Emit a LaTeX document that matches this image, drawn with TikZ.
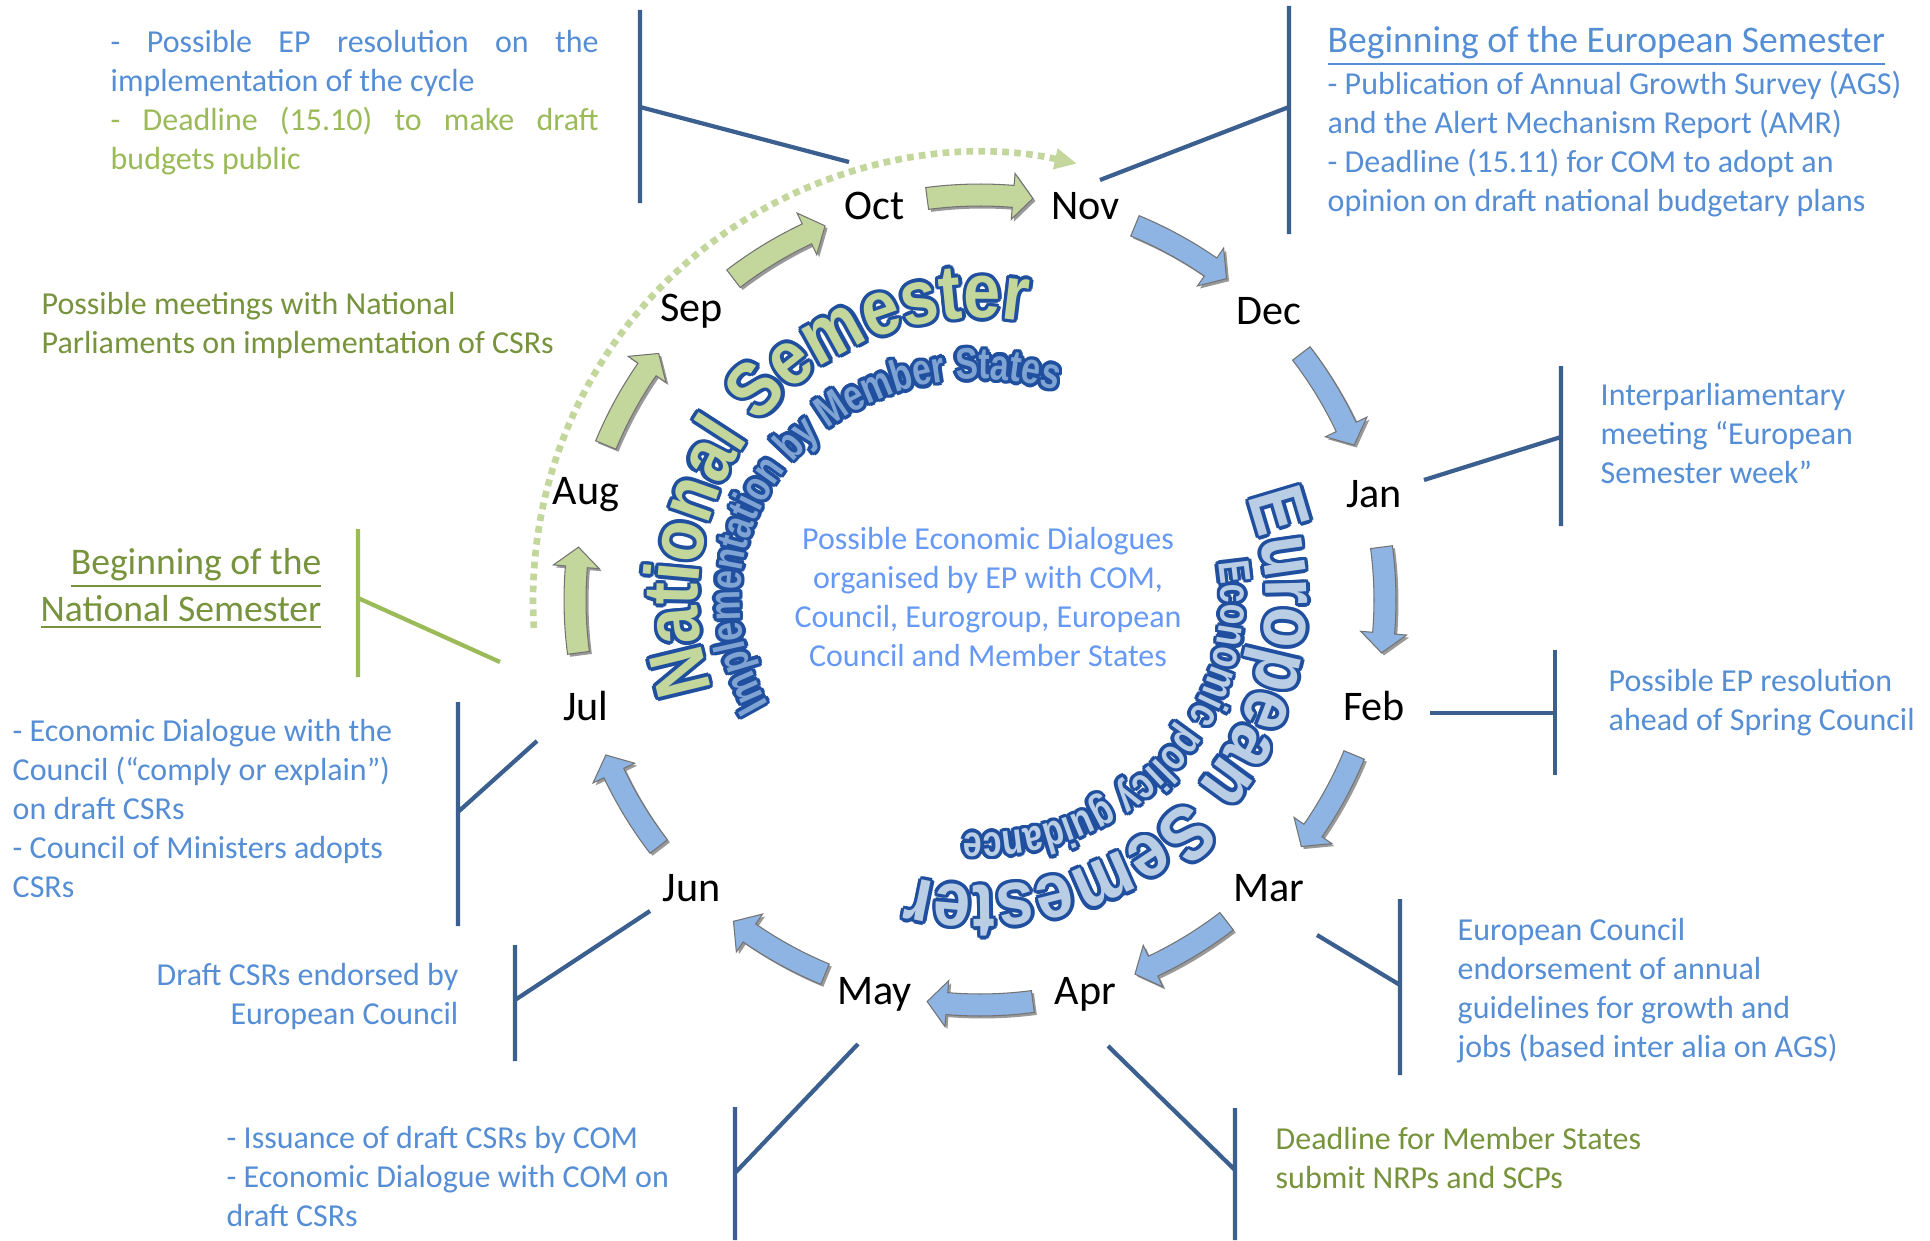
\documentclass[tikz,border=0pt]{standalone}
\usepackage{fontspec}
\setmainfont{Carlito}
\newfontfamily\artfont[FakeStretch=0.86]{Liberation Sans Bold}
\newfontfamily\artsmall[FakeStretch=0.77]{Liberation Sans Bold}
\usetikzlibrary{arrows.meta,positioning,decorations.text}

\definecolor{textblue}{HTML}{558ED5}
\definecolor{midblue}{HTML}{6699F5}
\definecolor{textgreen}{HTML}{77933C}
\definecolor{lightgreen}{HTML}{9BBB59}
\definecolor{arrowgreen}{HTML}{C3D69B}
\definecolor{arrowblue}{HTML}{8EB4E3}
\definecolor{barblue}{HTML}{3B5F8F}
\definecolor{artline}{HTML}{1F4F9E}
\definecolor{artblue}{HTML}{B9CDE5}
\definecolor{artmid}{HTML}{7FA3D3}

\newcommand\bigart{\artfont\fontsize{22}{26}\selectfont}
\newcommand\smallart{\artsmall\fontsize{12.5}{15}\selectfont}
\newcommand\fullline[1]{\makebox[4.88cm][s]{#1}}

% curved outlined text round the centre: mid angle, half span, x radius, y radius, fill, text
\newcommand\wordart[6]{%
  \foreach \o in {0,30,...,330}
    \path[shift={(\o:1pt)}, decorate, decoration={text along path, text align=center, text color=artline, text={#6}}]
      ({#1+#2}:#3 and #4) arc[start angle=#1+#2, end angle=#1-#2, x radius=#3, y radius=#4];
  \path[decorate, decoration={text along path, text align=center, text color=#5, text={#6}}]
    ({#1+#2}:#3 and #4) arc[start angle=#1+#2, end angle=#1-#2, x radius=#3, y radius=#4];
}

\begin{document}
\begin{tikzpicture}[
    month/.style={font=\fontsize{12}{14}\selectfont, inner sep=1pt},
    note/.style={font=\fontsize{9.1}{11.1}\selectfont, inner sep=0pt, align=left, anchor=north west},
    headline/.style={font=\fontsize{10.7}{13.4}\selectfont, inner sep=0pt},
    bar/.style={draw=barblue, line width=1.2pt},
    greenbar/.style={draw=lightgreen, line width=1.2pt},
    dotarc/.style={draw=arrowgreen, line width=1.9pt, dash pattern=on 1.9pt off 1.5pt},
    arrow shape/.style={insert path={({#1+7.5}:4.16) arc[start angle=#1+7.5, end angle=#1-4.7, radius=4.16]
        -- ({#1-4.7}:4.28) -- ({#1-7.5}:4.05) -- ({#1-4.7}:3.82) -- ({#1-4.7}:3.94)
        arc[start angle=#1-4.7, end angle=#1+7.5, radius=3.94] -- cycle}}
]
\fill[white] (0,0) rectangle (19.3,12.4);
\useasboundingbox (0,0) rectangle (19.3,12.4);

% the year as a ring of months
\begin{scope}[shift={(9.8,6.4)}]
    \draw[dotarc, -{Triangle[length=0.22cm, width=0.2cm]}] (183.6:4.47) arc[start angle=183.6, end angle=77.5, radius=4.47];
    \foreach \a/\col in {90/arrowgreen, 120/arrowgreen, 150/arrowgreen, 180/arrowgreen,
                         60/arrowblue, 30/arrowblue, 0/arrowblue, -30/arrowblue,
                         -60/arrowblue, -90/arrowblue, -120/arrowblue, -150/arrowblue} {
        \fill[black!40, shift={(0.025,-0.025)}, arrow shape=\a];
        \filldraw[fill=\col, draw=black!55, line width=0.3pt, arrow shape=\a];
    }
    \foreach \m/\a in {Oct/105, Nov/75, Dec/45, Jan/15, Feb/-15, Mar/-45,
                       Apr/-75, May/-105, Jun/-135, Jul/195, Aug/165, Sep/135}
        \node[month] (\m) at (\a:4.08) {\m};

    % curved titles
    \wordart{139.5}{70}{2.82}{2.82}{arrowgreen}{|\bigart|National Semester}
    \wordart{140}{80}{2.40}{2.21}{artmid}{|\smallart|Implementation by Member States}
    \wordart{-41.5}{75}{2.86}{2.86}{artblue}{|\bigart|European Semester}
    \wordart{-42}{70}{2.41}{2.33}{artblue}{|\smallart|Economic policy guidance}
\end{scope}

\node[note, align=center, anchor=center, text=midblue] (dialogue) at (9.88,6.43)
    {Possible Economic Dialogues\\organised by EP with COM,\\Council, Eurogroup, European\\Council and Member States};

% notes round the ring
\node[note, text=textblue] (epCycle) at (1.10,12.10)
    {\fullline{- Possible EP resolution on the}\\implementation of the cycle\\
     \color{lightgreen}\fullline{- Deadline (15.10) to make draft}\\\color{lightgreen}budgets public};
\node[note, text=textgreen] (natParl) at (0.41,9.48)
    {Possible meetings with National\\Parliaments on implementation of CSRs};
\node[headline, align=right, anchor=north east, text=textgreen] (natStart) at (3.22,6.92)
    {\underline{Beginning of the}\\\underline{National Semester}};
\node[note, text=textblue] (comply) at (0.12,5.21)
    {- Economic Dialogue with the\\Council (“comply or explain”)\\on draft CSRs\\- Council of Ministers adopts\\CSRs};
\node[note, align=right, anchor=north east, text=textblue] (endorse) at (4.59,2.77)
    {Draft CSRs endorsed by\\European Council};
\node[note, text=textblue] (issue) at (2.26,1.14)
    {- Issuance of draft CSRs by COM\\- Economic Dialogue with COM on\\draft CSRs};
\node[note, text=textgreen] (nrp) at (12.75,1.13)
    {Deadline for Member States\\submit NRPs and SCPs};
\node[note, text=textblue] (guide) at (14.57,3.22)
    {European Council\\endorsement of annual\\guidelines for growth and\\jobs (based inter alia on AGS)};
\node[note, text=textblue] (spring) at (16.08,5.71)
    {Possible EP resolution\\ahead of Spring Council};
\node[note, text=textblue] (week) at (16.00,8.57)
    {Interparliamentary\\meeting “European\\Semester week”};
\node[headline, anchor=north west, text=textblue] (euStart) at (13.27,12.14)
    {\underline{Beginning of the European Semester}};
\node[note, text=textblue, below=0.03cm of euStart.south west, anchor=north west] (ags)
    {- Publication of Annual Growth Survey (AGS)\\and the Alert Mechanism Report (AMR)\\- Deadline (15.11) for COM to adopt an\\opinion on draft national budgetary plans};

% brackets: vertical bar and a line to the month
\foreach \n/\x/\yt/\yb/\yj/\ex/\ey in {oct/6.40/12.30/10.37/11.33/8.49/10.78,
        nov/12.89/12.34/10.06/11.33/11.00/10.60, jan/15.61/8.74/7.14/8.03/14.24/7.60,
        feb/15.55/5.90/4.65/5.27/14.30/5.27, mar/14.00/3.41/1.65/2.55/13.17/3.05,
        apr/12.35/1.32/0/0.70/11.08/1.94, may/7.35/1.33/0/0.67/8.58/1.96,
        jun/5.15/2.95/1.79/2.40/6.50/3.29, jul/4.58/5.38/3.14/4.28/5.37/4.99} {
    \coordinate (\n Top) at (\x,\yt);
    \coordinate (\n Bot) at (\x,\yb);
    \coordinate (\n Join) at (\x,\yj);
    \coordinate (\n End) at (\ex,\ey);
    \draw[bar] (\n Top) -- (\n Bot) (\n Join) -- (\n End);
}
\coordinate (natTop) at (3.58,7.11);
\coordinate (natBot) at (3.58,5.63);
\coordinate (natJoin) at (3.58,6.42);
\coordinate (natEnd) at (5.00,5.78);
\draw[greenbar] (natTop) -- (natBot) (natJoin) -- (natEnd);
\end{tikzpicture}
\end{document}
